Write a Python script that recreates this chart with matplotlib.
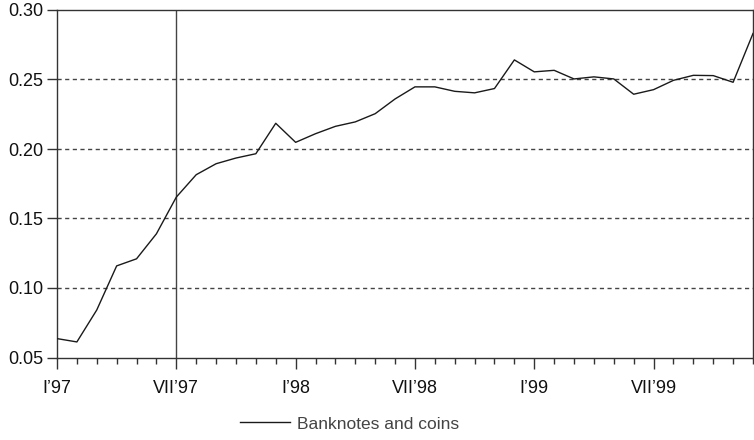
import matplotlib
matplotlib.use("Agg")
import matplotlib.pyplot as plt
from matplotlib import font_manager as fm
from matplotlib.lines import Line2D
import numpy as np

# ---- data ----
months = list(range(36))  # Jan 1997 .. Dec 1999
banknotes_coins = [0.0636, 0.0612, 0.0842, 0.1159, 0.1210, 0.1390, 0.1654,
                   0.1815, 0.1894, 0.1935, 0.1966, 0.2185, 0.2048, 0.2110,
                   0.2163, 0.2195, 0.2254, 0.2360, 0.2447, 0.2447, 0.2415,
                   0.2404, 0.2435, 0.2641, 0.2555, 0.2566, 0.2504, 0.2519,
                   0.2504, 0.2394, 0.2427, 0.2494, 0.2530, 0.2528, 0.2480,
                   0.2831]
xtick_pos = [0, 6, 12, 18, 24, 30]
xtick_labels = ["I\u201997", "VII\u201997", "I\u201998", "VII\u201998", "I\u201999", "VII\u201999"]
yticks = [0.05, 0.10, 0.15, 0.20, 0.25, 0.30]
series_label = "Banknotes and coins"
vline_month = 6

names = {f.name for f in fm.fontManager.ttflist}
narrow = "Liberation Sans Narrow" if "Liberation Sans Narrow" in names else "Liberation Sans"
regular = "Liberation Sans"

fig = plt.figure(figsize=(7.54, 4.40), dpi=100)
ax = fig.add_axes([57/754, 1 - 357.5/440, 696/754, 347.5/440])

dark = "#333333"
ax.plot(months, banknotes_coins, color="#1a1a1a", lw=1.0, zorder=3)
ax.axvline(vline_month, color="#444444", lw=1.0, zorder=2)
for y in yticks[1:-1]:
    ax.axhline(y, color="#444444", lw=1.0, ls=(0, (3, 2.5)), zorder=1)

ax.set_xlim(0, 35)
ax.set_ylim(0.05, 0.30)
ax.set_yticks(yticks)
ax.set_yticklabels([f"{v:.2f}" for v in yticks], fontfamily=regular, fontsize=13, color="#111111")
ax.set_xticks(xtick_pos)
xsize = 14 if narrow != regular else 13
ax.set_xticklabels(xtick_labels, fontfamily=narrow, fontsize=xsize, color="#111111")
ax.set_xticks(months, minor=True)
ax.tick_params(axis="x", which="major", direction="out", length=8, width=1, color=dark, pad=8)
ax.tick_params(axis="x", which="minor", direction="out", length=4, width=1, color=dark)
ax.tick_params(axis="y", which="major", direction="out", length=7, width=1, color=dark, pad=3)
for s in ax.spines.values():
    s.set_color(dark)
    s.set_linewidth(1.0)

handle = Line2D([0], [0], color="#1a1a1a", lw=1.0)
lsize = 14 if narrow != regular else 12.5
fig.legend([handle], [series_label], loc="center left",
           bbox_to_anchor=(240/754, 1 - 424/440), frameon=False,
           prop={"family": narrow, "size": lsize}, handlelength=2.9,
           handletextpad=0.4, borderpad=0, borderaxespad=0, labelcolor="#444444")

fig.savefig("out.png", dpi=100)
